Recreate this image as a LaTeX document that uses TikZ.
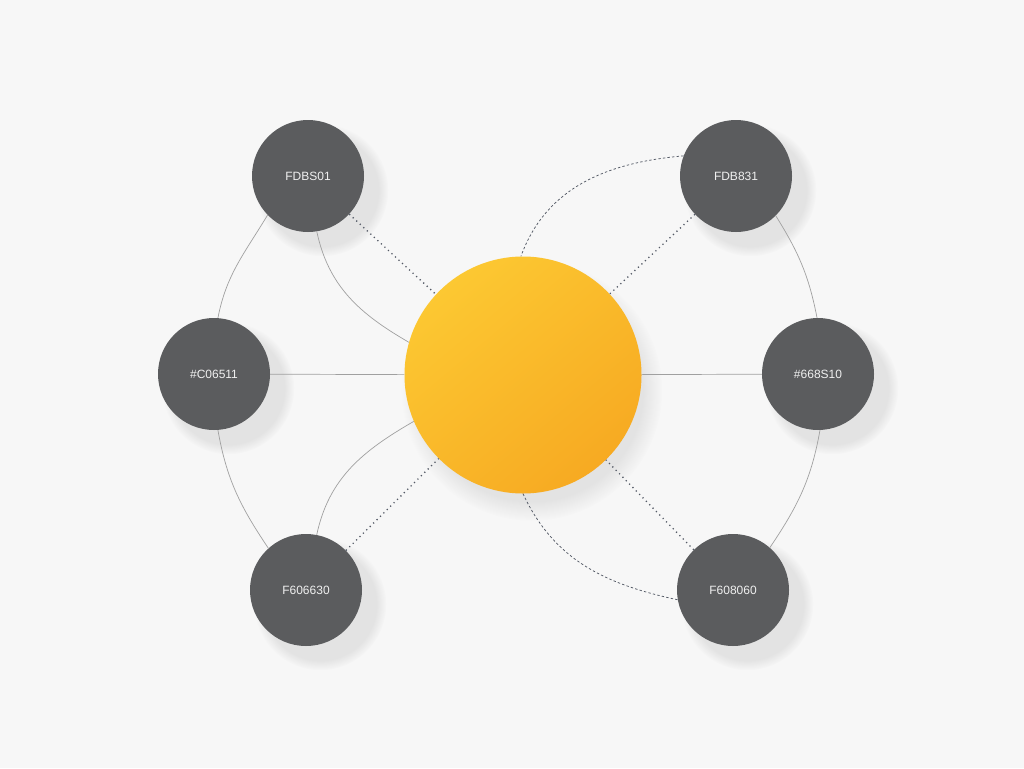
\documentclass[tikz,border=0pt]{standalone}
\usepackage{fontspec}
\setmainfont{Liberation Sans}
\usetikzlibrary{positioning,shadows}
\definecolor{bgcol}{HTML}{F7F7F7}
\definecolor{leafgray}{HTML}{5B5C5E}
\definecolor{leaftext}{HTML}{F0F0F0}
\definecolor{hubtop}{HTML}{FCC832}
\definecolor{hubbot}{HTML}{F7AA22}
\definecolor{linegray}{HTML}{A0A0A0}
\definecolor{dotgray}{HTML}{545A66}

\begin{document}
\begin{tikzpicture}[x=1pt,y=-1pt,
  leaf/.style={circle,fill=leafgray,minimum size=112pt,inner sep=0pt,text=leaftext,
    font=\fontsize{12}{14}\selectfont,
    circular drop shadow={shadow xshift=12pt,shadow yshift=-12pt,shadow scale=1.18,opacity=0.16}},
  hubnode/.style={circle,minimum size=237pt,inner sep=0pt,top color=hubtop,bottom color=hubbot,
    shading angle=40,
    circular drop shadow={shadow xshift=8pt,shadow yshift=-14pt,shadow scale=1.1,opacity=0.16}},
  solidline/.style={draw=linegray,line width=0.7pt},
  dotline/.style={draw=dotgray,line width=1.3pt,dash pattern=on 1.2pt off 3.6pt},
  dashline/.style={draw=dotgray,line width=0.75pt,dash pattern=on 2.4pt off 2.2pt}]
\useasboundingbox (0,0) rectangle (1024,768);
\fill[bgcol] (0,0) rectangle (1024,768);

% hub and the six colour nodes
\coordinate (c) at (523,375);
\path (c) node[hubnode] (hub) {};
\node[leaf] (tl) at (308,176) {FDBS01};
\node[leaf] (tr) at (736,176) {FDB831};
\node[leaf] (l) at (214,374) {\#C06511};
\node[leaf] (r) at (818,374) {\#668S10};
\node[leaf] (bl) at (306,590) {F606630};
\node[leaf] (br) at (733,590) {F608060};

% outer ring
\draw[solidline] (tl.-136) to[out=-121,in=79] (l.86);
\draw[solidline] (l.-86) to[out=-80,in=124] (bl.132);
\draw[solidline] (tr.-45) to[out=-58,in=101] (r.91);
\draw[solidline] (r.-88) to[out=-100,in=56] (br.49);

% spokes
\draw[solidline] (l) -- (hub);
\draw[solidline] (r) -- (hub);
\draw[dotline] (tl) -- (hub);
\draw[dotline] (tr) -- (hub);
\draw[dotline] (bl) -- (hub);
\draw[dotline] (br) -- (hub);

% inner arcs
\draw[solidline] (tl.-81) to[out=-78,in=150] (hub.164);
\draw[solidline] (bl.79) to[out=78,in=-150] (hub.-157);
\draw[dashline] (tr.159) to[out=185,in=70] (hub.91);
\draw[dashline] (hub.-90) to[out=-65,in=168] (br.190);
\end{tikzpicture}
\end{document}
